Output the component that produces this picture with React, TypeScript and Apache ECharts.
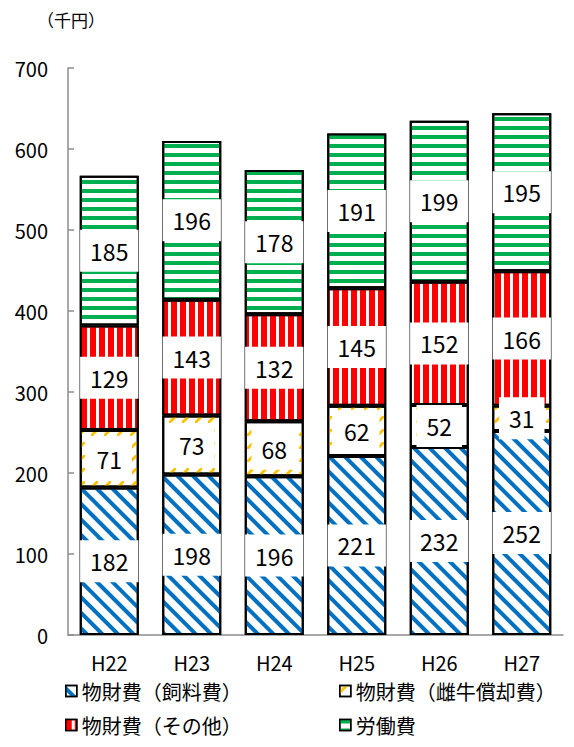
import React, { useEffect, useRef } from "react";
import * as echarts from "echarts";

const categories = ["H22", "H23", "H24", "H25", "H26", "H27"];
const feedCost = [182, 198, 196, 221, 232, 252];
const cowDepreciation = [71, 73, 68, 62, 52, 31];
const otherCost = [129, 143, 132, 145, 152, 166];
const laborCost = [185, 196, 178, 191, 199, 195];
const seriesNames = ["物財費（飼料費）", "物財費（雌牛償却費）", "物財費（その他）", "労働費"];

const FONT = "'Noto Sans CJK JP', 'Noto Sans', sans-serif";

export default function App() {
  const ref = useRef<HTMLDivElement>(null);
  useEffect(() => {
    if (!ref.current) return;
    const chart = echarts.init(ref.current, null, { renderer: "svg" });
    const label = {
      show: true,
      position: "inside",
      backgroundColor: "#fff",
      padding: [9, 10],
      lineHeight: 24,
      fontSize: 23,
      color: "#000",
      fontFamily: FONT,
    };
    const itemBase = { color: "#fff", borderColor: "#000", borderWidth: 2 };
    const decals = [
      { symbol: "rect", color: "#0070C0", backgroundColor: "#fff", dashArrayX: [1, 0], dashArrayY: [3.5, 7], rotation: Math.PI / 4 },
      {
        symbol: "path://M0,5 L5,0 L7,0 L7,2 L2,7 L0,7 Z",
        symbolSize: 1,
        symbolKeepAspect: false,
        color: "#FFC000",
        backgroundColor: "#fff",
        dashArrayX: [7, 6],
        dashArrayY: [7, 6],
        rotation: 0,
      },
      { symbol: "rect", color: "#FF0000", backgroundColor: "#fff", dashArrayX: [5.5, 3], dashArrayY: [1, 0], rotation: 0 },
      { symbol: "rect", color: "#00B050", backgroundColor: "#fff", dashArrayX: [1, 0], dashArrayY: [4, 4.5], rotation: 0 },
    ];
    const datas = [feedCost, cowDepreciation, otherCost, laborCost];
    const legendPos = [
      { left: 65, top: 681 },
      { left: 339, top: 681 },
      { left: 65, top: 715 },
      { left: 339, top: 715 },
    ];
    chart.setOption({
      animation: false,
      title: {
        text: "（千円）",
        left: 32,
        top: 6,
        textStyle: { fontSize: 17, fontWeight: "normal", color: "#000", fontFamily: FONT },
      },
      legend: seriesNames.map((n, i) => ({
        data: [n],
        left: legendPos[i].left,
        top: legendPos[i].top,
        padding: 0,
        icon: "rect",
        itemWidth: 11,
        itemHeight: 11,
        itemStyle: { borderColor: "#000", borderWidth: 1.5 },
        textStyle: { fontSize: 20, color: "#000", fontFamily: FONT, lineHeight: 18 },
        selectedMode: false,
      })),
      grid: { left: 68, right: 11, top: 68, bottom: 112 },
      xAxis: {
        type: "category",
        data: categories,
        axisLine: { lineStyle: { color: "#8c8c8c", width: 1.5 } },
        axisTick: { inside: true, length: 6, lineStyle: { color: "#8c8c8c", width: 1.5 } },
        axisLabel: { fontSize: 20, color: "#000", margin: 18, lineHeight: 18, fontFamily: FONT },
      },
      yAxis: {
        type: "value",
        min: 0,
        max: 700,
        interval: 100,
        axisLine: { show: true, lineStyle: { color: "#8c8c8c", width: 1.5 } },
        axisTick: { show: true, inside: true, length: 6, lineStyle: { color: "#8c8c8c", width: 1.5 } },
        splitLine: { show: false },
        axisLabel: { fontSize: 20, color: "#000", margin: 20, fontFamily: FONT },
      },
      series: seriesNames.map((n, i) => ({
        name: n,
        type: "bar",
        stack: "total",
        barWidth: 59,
        data: datas[i],
        itemStyle: { ...itemBase, decal: decals[i] },
        label,
      })),
    });
    return () => chart.dispose();
  }, []);
  return (
    <div
      ref={ref}
      style={{ position: "fixed", left: 0, top: 0, width: 574, height: 747, background: "#fff" }}
    />
  );
}
